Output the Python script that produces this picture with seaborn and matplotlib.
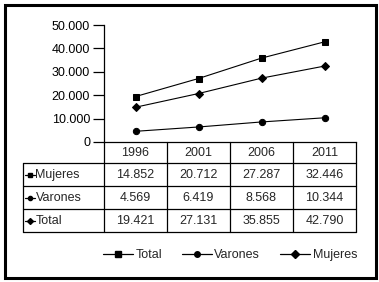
import matplotlib
matplotlib.use("Agg")
import matplotlib.pyplot as plt
from matplotlib.lines import Line2D
from matplotlib.patches import Rectangle
from matplotlib.ticker import FuncFormatter
import seaborn as sns
import pandas as pd

years = ["1996", "2001", "2006", "2011"]
mujeres = [14852, 20712, 27287, 32446]
varones = [4569, 6419, 8568, 10344]
total = [19421, 27131, 35855, 42790]
y_ticks = [0, 10000, 20000, 30000, 40000, 50000]

# series drawn in the chart (top to bottom) and the order of the legend
legend_order = ["Total", "Varones", "Mujeres"]
line_markers = {"Total": "s", "Mujeres": "D", "Varones": "o"}
table_rows = ["Mujeres", "Varones", "Total"]
table_markers = {"Mujeres": "s", "Varones": "o", "Total": "D"}
values = {"Mujeres": mujeres, "Varones": varones, "Total": total}

sns.set_theme(style="white")
plt.rcParams["font.family"] = ["Liberation Sans", "DejaVu Sans"]
FS = 9

W, H = 379, 282
fig = plt.figure(figsize=(W / 100, H / 100), dpi=100)
fig.patch.set_facecolor("white")

def fx(px):
    return px / W

def fy(py):
    return 1 - py / H

# main line chart
x0, x1, ytop, ybot = 104, 356, 25, 142
ax = fig.add_axes([fx(x0), fy(ybot), fx(x1 - x0), (ybot - ytop) / H])
df = pd.DataFrame({
    "pos": list(range(len(years))) * 3,
    "value": total + mujeres + varones,
    "serie": ["Total"] * 4 + ["Mujeres"] * 4 + ["Varones"] * 4,
})
for name in ["Total", "Mujeres", "Varones"]:
    sub = df[df["serie"] == name]
    sns.lineplot(data=sub, x="pos", y="value", ax=ax, color="black", linewidth=0.8,
                 marker=line_markers[name], markersize=4.5 if line_markers[name] != "D" else 4.2,
                 markeredgecolor="black", markerfacecolor="black", label=name, legend=False)
ax.set_xlim(-0.5, len(years) - 0.5)
ax.set_ylim(0, 50000)
ax.set_yticks(y_ticks)
ax.yaxis.set_major_formatter(FuncFormatter(lambda v, p: "0" if v == 0 else f"{int(v):,}".replace(",", ".")))
ax.set_xticks([])
ax.set_xlabel("")
ax.set_ylabel("")
ax.tick_params(axis="y", direction="out", length=8, width=0.9, color="black",
               labelsize=FS, labelcolor="black", pad=2, left=True)
for s in ["top", "right"]:
    ax.spines[s].set_visible(False)
for s in ["left", "bottom"]:
    ax.spines[s].set_color("black")
    ax.spines[s].set_linewidth(0.9)
ax.set_facecolor("white")
ax.grid(False)

# data table below the chart
tl = 23
col_w = (x1 - x0) / len(years)
rows_y = [142, 163, 186, 209, 232]
tax = fig.add_axes([fx(tl), fy(rows_y[-1]), fx(x1 - tl), (rows_y[-1] - rows_y[0]) / H])
tax.set_xlim(-0.5 - (x0 - tl) / col_w, len(years) - 0.5)
tax.set_ylim(rows_y[-1], rows_y[0])
tax.axis("off")
lw = 0.9
xl = -0.5 - (x0 - tl) / col_w
for i in range(len(years) + 1):
    tax.plot([i - 0.5, i - 0.5], [rows_y[0], rows_y[-1]], color="black", lw=lw, clip_on=False)
tax.plot([xl, xl], [rows_y[1], rows_y[-1]], color="black", lw=lw, clip_on=False)
for yy in rows_y[1:]:
    tax.plot([xl, len(years) - 0.5], [yy, yy], color="black", lw=lw, clip_on=False)
for i, yr in enumerate(years):
    tax.text(i, (rows_y[0] + rows_y[1]) / 2 + 0.5, yr, ha="center", va="center", fontsize=FS)
u = 1 / col_w
for r, name in enumerate(table_rows):
    yc = (rows_y[r + 1] + rows_y[r + 2]) / 2 + 0.5
    tax.plot([xl + 1.5 * u, xl + 11.5 * u], [yc, yc], color="black", lw=lw)
    tax.plot([xl + 6.5 * u], [yc], marker=table_markers[name], color="black", markersize=3)
    tax.text(xl + 12.5 * u, yc, name, ha="left", va="center", fontsize=FS)
    for i, v in enumerate(values[name]):
        tax.text(i, yc, f"{v:,}".replace(",", "."), ha="center", va="center", fontsize=FS)

# legend
handles = [Line2D([], [], color="black", lw=lw, marker=m, markersize=4)
           for m in ["s", "o", "D"]]
fig.legend(handles, legend_order, loc="center", bbox_to_anchor=(fx(230), fy(255)), ncol=3,
           frameon=False, fontsize=FS, handlelength=2.4, handletextpad=0.2, columnspacing=1.6)

# outer frame
fig.patches.append(Rectangle((fx(4.5), fy(277.5)), fx(371), (273) / H, transform=fig.transFigure,
                             fill=False, edgecolor="black", linewidth=2.2))

fig.savefig("out.png", dpi=100)
